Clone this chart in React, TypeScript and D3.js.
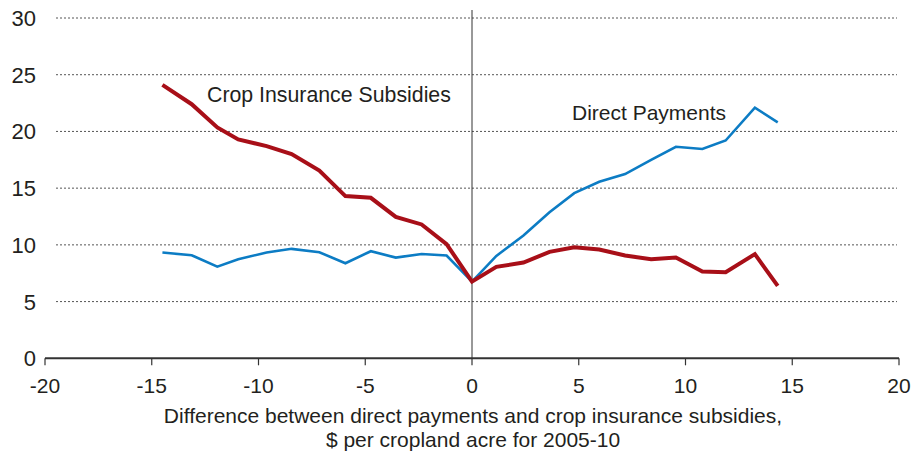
import { useMemo } from 'react'
import { scaleLinear, line } from 'd3'

const X_TICKS = [-20, -15, -10, -5, 0, 5, 10, 15, 20]
const Y_TICKS = [0, 5, 10, 15, 20, 25, 30]

// difference values (x) shared by both series
const DIFF = [
  -14.5, -13.13, -11.93, -10.95, -9.62, -8.45, -7.15, -5.93, -4.74, -3.57, -2.36, -1.19, 0,
  1.14, 2.41, 3.63, 4.79, 5.96, 7.17, 8.39, 9.55, 10.79, 11.88, 13.25, 14.32,
]
const CROP_INSURANCE = [
  24.1, 22.4, 20.35, 19.3, 18.7, 18.0, 16.55, 14.3, 14.15, 12.47, 11.8, 10.06, 6.76,
  8.06, 8.44, 9.38, 9.79, 9.59, 9.06, 8.74, 8.88, 7.65, 7.59, 9.18, 6.38,
]
const DIRECT_PAYMENTS = [
  9.32, 9.09, 8.08, 8.74, 9.32, 9.65, 9.35, 8.38, 9.44, 8.88, 9.2, 9.06, 6.76,
  9.03, 10.82, 12.88, 14.56, 15.56, 16.24, 17.5, 18.65, 18.45, 19.2, 22.1, 20.8,
]

const W = 915
const H = 454
const FONT = '"Liberation Sans", Arial, Helvetica, sans-serif'
const TEXT = '#231f20'

export default function App() {
  const x = useMemo(() => scaleLinear().domain([-20, 20]).range([45, 899]), [])
  const y = useMemo(() => scaleLinear().domain([0, 30]).range([358.3, 18]), [])

  const gen = line<number>()
    .x((_, i) => x(DIFF[i]))
    .y((v) => y(v))

  return (
    <svg
      width={W}
      height={H}
      style={{ position: 'absolute', left: 0, top: 0, background: '#fff' }}
      fontFamily={FONT}
    >
      {/* dotted grid */}
      {Y_TICKS.filter((t) => t > 0).map((t) => (
        <line
          key={t}
          x1={56}
          x2={897}
          y1={y(t)}
          y2={y(t)}
          stroke="#555"
          strokeWidth={1}
          strokeDasharray="2,2"
        />
      ))}

      {/* y tick labels */}
      {Y_TICKS.map((t) => (
        <text
          key={t}
          x={36}
          y={y(t)}
          dy="0.36em"
          textAnchor="end"
          fontSize={22}
          fill={TEXT}
        >
          {t}
        </text>
      ))}

      {/* zero vertical */}
      <line x1={x(0)} x2={x(0)} y1={10} y2={y(0)} stroke="#333" strokeWidth={1} />

      {/* x axis */}
      <line x1={x(-20)} x2={x(20)} y1={y(0)} y2={y(0)} stroke="#333" strokeWidth={2} />
      {X_TICKS.map((t) => (
        <g key={t}>
          <line x1={x(t)} x2={x(t)} y1={y(0)} y2={y(0) + 7} stroke="#333" strokeWidth={1.2} />
          <text x={x(t)} y={y(0) + 35} textAnchor="middle" fontSize={21} fill={TEXT}>
            {t}
          </text>
        </g>
      ))}

      <text x={473} y={423} textAnchor="middle" fontSize={21} fill={TEXT}>
        Difference between direct payments and crop insurance subsidies,
      </text>
      <text x={473} y={447} textAnchor="middle" fontSize={21} fill={TEXT}>
        $ per cropland acre for 2005-10
      </text>

      {/* series */}
      <path
        d={gen(DIRECT_PAYMENTS) ?? ''}
        fill="none"
        stroke="#0c7cc4"
        strokeWidth={2.6}
        strokeLinejoin="miter"
      />
      <path
        d={gen(CROP_INSURANCE) ?? ''}
        fill="none"
        stroke="#a80f18"
        strokeWidth={4}
        strokeLinejoin="miter"
      />

      <text x={207} y={102} fontSize={21.3} fill={TEXT}>
        Crop Insurance Subsidies
      </text>
      <text x={572} y={120} fontSize={21} fill={TEXT}>
        Direct Payments
      </text>
    </svg>
  )
}
